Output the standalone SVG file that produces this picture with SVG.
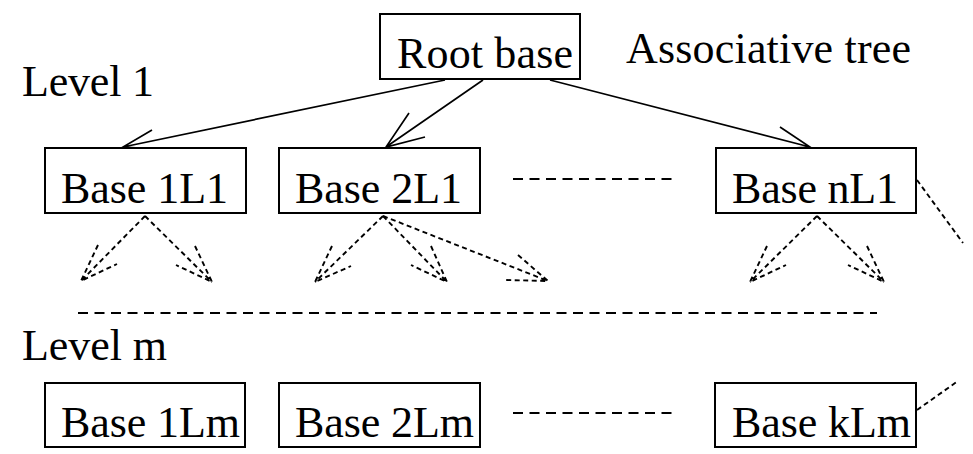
<svg xmlns="http://www.w3.org/2000/svg" width="973" height="454" viewBox="0 0 973 454">
  <style>
    .box { fill: #fff; stroke: #000; stroke-width: 2; }
    .lbl { font-family: "Liberation Serif", "Times New Roman", serif; font-size: 44px; fill: #000; }
    .solid { fill: none; stroke: #000; stroke-width: 1.7; }
    .dash { fill: none; stroke: #000; stroke-width: 1.9; stroke-dasharray: 5 3.5; }
    .sep { fill: none; stroke: #000; stroke-width: 2; stroke-dasharray: 10 6.5; }
  </style>
  <rect width="973" height="454" fill="#fff"/>

  <!-- free labels -->
  <text class="lbl" x="22" y="96" textLength="132" lengthAdjust="spacing">Level 1</text>
  <text class="lbl" x="626" y="63" textLength="285" lengthAdjust="spacing">Associative tree</text>
  <text class="lbl" x="22" y="360" textLength="145" lengthAdjust="spacing">Level m</text>

  <!-- connectors -->
  <g id="connectors">
    <!-- root to first level -->
    <path class="solid" d="M445,80 L123,147 M152,130 L123,147 L156,149"/>
    <path class="solid" d="M483,80 L386,147 M409,113 L386,147 L425,137"/>
    <path class="solid" d="M550,80 L810,147 M780,127 L810,147 L774,149"/>
    <!-- first level downward -->
    <path class="dash" d="M145,216 L81,281 M98,245 L81,281 L117,264"/>
    <path class="dash" d="M145,216 L212,282 M195,246 L212,282 L176,265"/>
    <path class="dash" d="M383,216 L315,282 M332,246 L315,282 L351,266"/>
    <path class="dash" d="M383,216 L447,282 M431,246 L447,282 L411,265"/>
    <path class="dash" d="M383,216 L548,281 M518,255 L548,281 L505,280"/>
    <path class="dash" d="M817,216 L750,282 M767,246 L750,282 L786,265"/>
    <path class="dash" d="M817,216 L884,282 M867,246 L884,282 L848,265"/>
    <!-- ellipses between nodes and levels -->
    <path class="sep" d="M513,179 L676,179"/>
    <path class="sep" d="M78,313 L877,313"/>
    <path class="sep" d="M513,413 L676,413"/>
    <!-- side link between nL1 and kLm -->
    <path class="dash" d="M917,180 L963,243"/>
    <path class="dash" d="M917,410 L958,381"/>
  </g>

  <g id="root">
    <rect class="box" x="380" y="14" width="200" height="65"/>
    <text class="lbl" x="397" y="68" textLength="176" lengthAdjust="spacing">Root base</text>
  </g>
  <g id="base1L1">
    <rect class="box" x="45" y="148" width="201" height="65"/>
    <text class="lbl" x="61" y="203" textLength="167" lengthAdjust="spacing">Base 1L1</text>
  </g>
  <g id="base2L1">
    <rect class="box" x="279" y="148" width="201" height="65"/>
    <text class="lbl" x="295" y="203" textLength="167" lengthAdjust="spacing">Base 2L1</text>
  </g>
  <g id="baseNL1">
    <rect class="box" x="716" y="148" width="200" height="65"/>
    <text class="lbl" x="732" y="203" textLength="166" lengthAdjust="spacing">Base nL1</text>
  </g>
  <g id="base1Lm">
    <rect class="box" x="45" y="383" width="200" height="64"/>
    <text class="lbl" x="61" y="437" textLength="179" lengthAdjust="spacing">Base 1Lm</text>
  </g>
  <g id="base2Lm">
    <rect class="box" x="279" y="383" width="201" height="64"/>
    <text class="lbl" x="295" y="437" textLength="179" lengthAdjust="spacing">Base 2Lm</text>
  </g>
  <g id="baseKLm">
    <rect class="box" x="715" y="383" width="201" height="64"/>
    <text class="lbl" x="732" y="437" textLength="179" lengthAdjust="spacing">Base kLm</text>
  </g>
</svg>
